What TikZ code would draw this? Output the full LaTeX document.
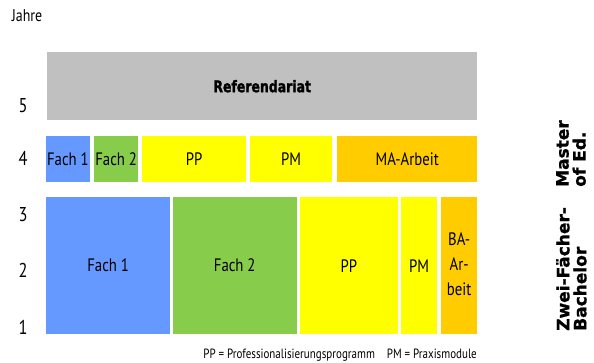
\documentclass[tikz,border=0pt]{standalone}
\usepackage{fontspec}
\setmainfont{PT Sans}[FakeStretch=0.82]
\newfontfamily\heavyfont{DejaVu Sans}[FakeBold=1]
\newfontfamily\reffont{DejaVu Sans}[FakeStretch=0.78, FakeBold=1.5]
\definecolor{fachblau}{HTML}{6699FF}
\definecolor{fachgruen}{HTML}{88CC4C}
\definecolor{ppgelb}{HTML}{FFFF00}
\definecolor{arbeitorange}{HTML}{FFCC00}
\definecolor{refgrau}{HTML}{C0C0C0}
\tikzset{
  feld/.style={anchor=north west, inner sep=0pt, align=center, font=\fontsize{18}{25}\selectfont},
  jahr/.style={font=\fontsize{20}{20}\selectfont},
  seite/.style={rotate=90, anchor=north west, inner sep=0pt, align=left, font=\heavyfont\bfseries\fontsize{17}{17}\selectfont}
}

\begin{document}
\begin{tikzpicture}[x=1pt, y=-1pt]
    \useasboundingbox (0,0) rectangle (594,363);
    \node[font=\fontsize{17}{17}\selectfont] (jahre) at (27,16) {Jahre};
    \node[jahr] (j5) at (23,105.5) {5};
    \node[jahr] (j4) at (23,158.5) {4};
    \node[jahr] (j3) at (23,215) {3};
    \node[jahr] (j2) at (23,270.5) {2};
    \node[jahr] (j1) at (23,327) {1};
    \node[feld, fill=refgrau, minimum width=430pt, minimum height=68pt, font=\reffont\bfseries\fontsize{16}{16}\selectfont] (ref) at (47,52) {Referendariat};
    \node[feld, fill=fachblau, minimum width=43.5pt, minimum height=46pt] (mfach1) at (46,136) {Fach 1};
    \node[feld, fill=fachgruen, minimum width=44pt, minimum height=46pt] (mfach2) at (94,136) {Fach 2};
    \node[feld, fill=ppgelb, minimum width=104pt, minimum height=46pt] (mpp) at (142,136) {PP};
    \node[feld, fill=ppgelb, minimum width=82pt, minimum height=46pt] (mpm) at (250,136) {PM};
    \node[feld, fill=arbeitorange, minimum width=140pt, minimum height=46pt] (marbeit) at (337,136) {MA-Arbeit};
    \node[feld, fill=fachblau, minimum width=124pt, minimum height=137pt] (bfach1) at (46,197) {Fach 1};
    \node[feld, fill=fachgruen, minimum width=124pt, minimum height=137pt] (bfach2) at (172.5,197) {Fach 2};
    \node[feld, fill=ppgelb, minimum width=98.5pt, minimum height=137pt] (bpp) at (299.5,197) {PP};
    \node[feld, fill=ppgelb, minimum width=36pt, minimum height=137pt] (bpm) at (401,197) {PM};
    \node[feld, fill=arbeitorange, minimum width=36pt, minimum height=137pt] (barbeit) at (441,197) {\raisebox{3pt}{\begin{tabular}{@{}c@{}}BA-\\Ar-\\beit\end{tabular}}};
    \node[seite] (master) at (556,187) {Master\\of Ed.};
    \node[seite] (bachelor) at (556,331) {Zwei-Fächer-\\Bachelor};
    \node[anchor=base east, inner sep=0pt, font=\fontsize{13.4}{13.4}\selectfont] (legende) at (477,358) {PP = Professionalisierungsprogramm\hspace{12pt}PM = Praxismodule};
\end{tikzpicture}
\end{document}
